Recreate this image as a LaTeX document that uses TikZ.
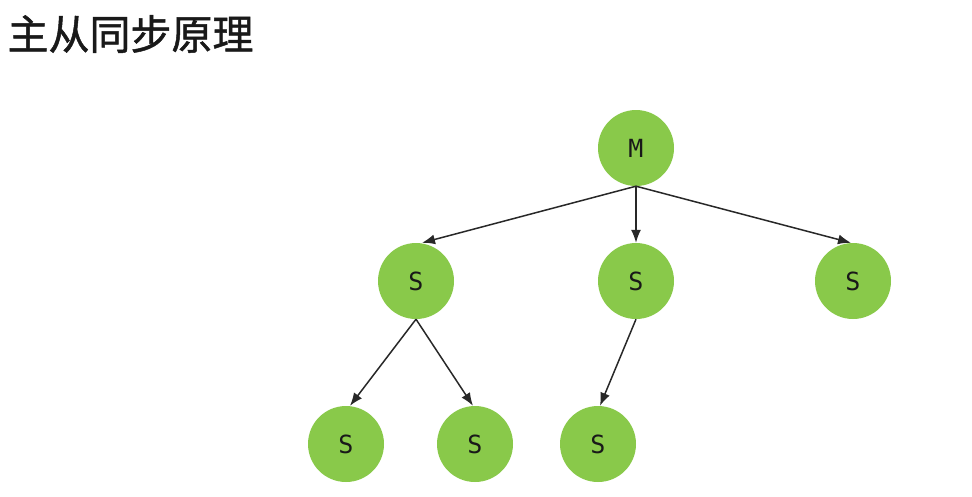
\documentclass[tikz,border=0pt]{standalone}
\usepackage{fontspec}
\newfontfamily\cjk[FakeBold=1.2]{Noto Sans CJK SC}
\newfontfamily\nodefont{DejaVu Sans Mono}
\usetikzlibrary{arrows.meta}
\definecolor{nodegreen}{RGB}{137,201,74}
\definecolor{edgegray}{RGB}{40,40,40}
\tikzset{
  tnode/.style={circle, fill=nodegreen, draw=none, minimum size=76pt, inner sep=0pt,
    font=\nodefont\fontsize{25}{25}\selectfont, text=black!90},
  tedge/.style={draw=edgegray, line width=1.5pt, -{Latex[length=13pt,width=10pt]}},
}
\begin{document}
\begin{tikzpicture}[x=1pt,y=-1pt]
\useasboundingbox (0,0) rectangle (972,496);
\node[anchor=west, font=\cjk\fontsize{41}{41}\selectfont, text=black!90] (title) at (4,34) {主从同步原理};
\node[tnode] (m) at (636,148) {M};
\node[tnode] (s1) at (416,281) {S};
\node[tnode] (s2) at (636,281) {S};
\node[tnode] (s3) at (853,281) {S};
\node[tnode] (s4) at (346,444) {S};
\node[tnode] (s5) at (475,444) {S};
\node[tnode] (s6) at (598,444) {S};
\coordinate (mb) at (m.south);
\draw[tedge] (mb) -- ([xshift=6pt]s1.north);
\draw[tedge] (mb) -- (s2.north);
\draw[tedge] (mb) -- ([xshift=-2pt]s3.north);
\draw[tedge] (s1.south) -- ([xshift=4pt]s4.north);
\draw[tedge] (s1.south) -- ([xshift=-2pt]s5.north);
\draw[tedge] (s2.south) -- ([xshift=2pt]s6.north);
\end{tikzpicture}
\end{document}
